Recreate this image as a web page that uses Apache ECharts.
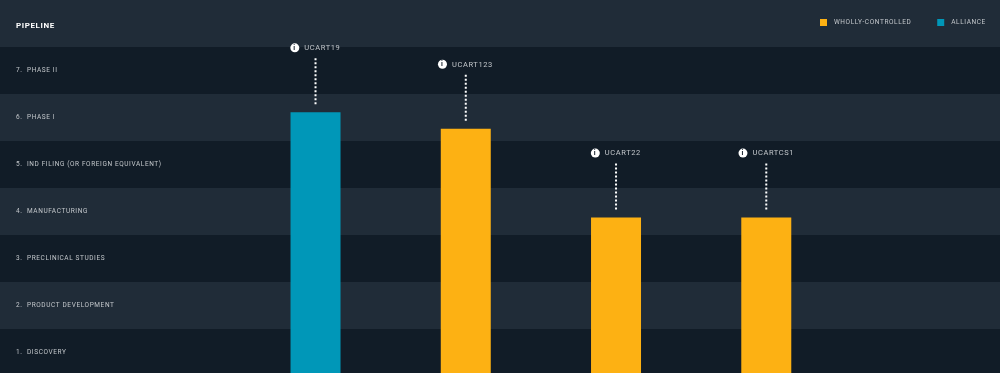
<!DOCTYPE html>
<html>
<head>
<meta charset="utf-8">
<style>
  html, body { margin: 0; padding: 0; background: #111c27; }
  #chart { width: 1000px; height: 373px; }
</style>
<script src="https://cdn.jsdelivr.net/npm/echarts@6/dist/echarts.min.js"></script>
</head>
<body>
<div id="chart"></div>
<script>
// stages from the bottom up, the top row only holds the title
const stages = ["1.  DISCOVERY", "2.  PRODUCT DEVELOPMENT", "3.  PRECLINICAL STUDIES", "4.  MANUFACTURING",
  "5.  IND FILING (OR FOREIGN EQUIVALENT)", "6.  PHASE I", "7.  PHASE II", ""];
const programs = ["UCART19", "UCART123", "UCART22", "UCARTCS1"];
const wholly = [null, 5.26, 3.37, 3.37];
const alliance = [5.61, null, null, null];

const DARK = "#111c27";
const LIGHT = "#202c38";
const YELLOW = "#fdb113";
const BLUE = "#0097b8";
const TEXT = "#c3c7cb";
const FONT = "Roboto, sans-serif";

// zrender has no letter spacing option, so set it on the canvas when text is drawn
const fillText = CanvasRenderingContext2D.prototype.fillText;
CanvasRenderingContext2D.prototype.fillText = function (...args) {
  this.letterSpacing = "0.6px";
  return fillText.apply(this, args);
};

const chart = echarts.init(document.getElementById("chart"));

// dotted stem, info icon and name above each bar
function renderNote(params, api) {
  const name = programs[api.value(0)];
  const top = api.coord([api.value(0), api.value(1)]);
  const textW = name.length * 5.2;
  const left = top[0] - (14 + textW) / 2;
  const labelY = top[1] - 64.5;
  return {
    type: "group",
    children: [
      {
        type: "line",
        shape: { x1: top[0], y1: top[1] - 54, x2: top[0], y2: top[1] - 6 },
        style: { stroke: "#fff", lineWidth: 2, lineDash: [2, 2] },
      },
      {
        type: "circle",
        shape: { cx: left + 4.5, cy: labelY, r: 4.5 },
        style: { fill: "#fff" },
      },
      {
        type: "text",
        x: left + 4.2,
        y: labelY,
        style: { text: "i", fill: DARK, font: "bold 7px " + FONT, align: "center", verticalAlign: "middle" },
      },
      {
        type: "text",
        x: left + 14,
        y: labelY + 0.5,
        style: { text: name, fill: TEXT, font: "7.5px " + FONT, verticalAlign: "middle" },
      },
    ],
  };
}

chart.setOption({
  backgroundColor: DARK,
  animation: false,
  title: {
    text: "PIPELINE",
    left: 11,
    top: 16,
    textStyle: { color: "#fff", fontFamily: FONT, fontSize: 8, fontWeight: 700, lineHeight: 10 },
  },
  legend: {
    left: 815,
    top: 14,
    width: 185,
    icon: "rect",
    itemWidth: 7,
    itemHeight: 7,
    itemGap: 36,
    data: ["WHOLLY-CONTROLLED", "ALLIANCE"],
    textStyle: { color: TEXT, fontFamily: FONT, fontSize: 6.5, padding: [0, 0, 0, 2] },
  },
  // rows are 47px tall, the last one runs off the bottom of the page
  grid: [
    { left: 0, right: 0, top: 0, height: 376, outerBoundsMode: "none" },
    { left: 240.4, width: 601, top: 0, height: 376, outerBoundsMode: "none" },
  ],
  xAxis: [
    { gridIndex: 0, type: "value", show: false },
    { gridIndex: 1, type: "category", data: programs, show: false },
  ],
  yAxis: [
    {
      gridIndex: 0,
      type: "category",
      data: stages,
      axisLine: { show: false },
      axisTick: { show: false },
      splitArea: { show: true, areaStyle: { color: [DARK, LIGHT] } },
      axisLabel: { inside: true, margin: 16, color: TEXT, fontFamily: FONT, fontSize: 6.5, padding: [2, 0, 0, 0] },
    },
    { gridIndex: 1, type: "value", min: 0, max: 8, show: false },
  ],
  series: [
    {
      name: "WHOLLY-CONTROLLED",
      type: "bar",
      xAxisIndex: 1,
      yAxisIndex: 1,
      stack: "programs",
      barWidth: 50,
      itemStyle: { color: YELLOW },
      data: wholly,
    },
    {
      name: "ALLIANCE",
      type: "bar",
      xAxisIndex: 1,
      yAxisIndex: 1,
      stack: "programs",
      barWidth: 50,
      itemStyle: { color: BLUE },
      data: alliance,
    },
    {
      type: "custom",
      xAxisIndex: 1,
      yAxisIndex: 1,
      renderItem: renderNote,
      silent: true,
      data: programs.map((p, i) => [i, wholly[i] ?? alliance[i]]),
    },
  ],
});
</script>
</body>
</html>
